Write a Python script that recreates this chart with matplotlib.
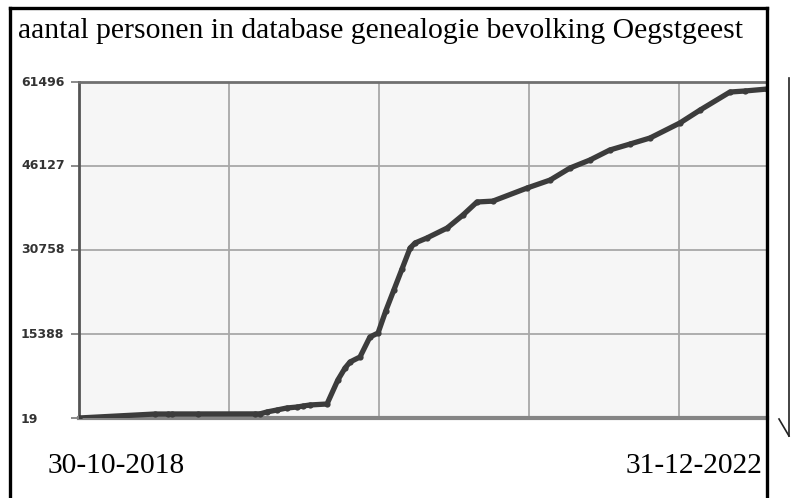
import matplotlib
matplotlib.use("Agg")
import matplotlib.pyplot as plt
from matplotlib.lines import Line2D
import matplotlib.transforms as mtransforms

# ---- data ----
title = "aantal personen in database genealogie bevolking Oegstgeest"
start_label = "30-10-2018"
end_label = "31-12-2022"
# days since 30-10-2018
days = [0, 168, 197, 206, 263, 390, 401, 416, 438, 460, 483, 496, 511, 549,
        573, 589, 600, 622, 644, 662, 679, 697, 715, 733, 744, 770, 815, 850, 881,
        916, 992, 1043, 1087, 1131, 1175, 1220, 1264, 1330, 1375, 1441, 1474, 1523]
persons = [19, 750, 750, 760, 760, 770, 780, 1120, 1480, 1850, 2030, 2210, 2400, 2580,
           6970, 9170, 10270, 11180, 14840, 15570, 19600, 23440, 27280, 31120, 32040,
           32950, 34780, 37160, 39540, 39700, 42100, 43560, 45760, 47220, 49050, 50150,
           51250, 53990, 56370, 59660, 59850, 60210]
y_ticks = [19, 15388, 30758, 46127, 61496]
y_tick_labels = ["19", "15388", "30758", "46127", "61496"]
x_grid = [332, 664, 996, 1328]
x_max = 1523

W, H = 791, 498
fig = plt.figure(figsize=(W / 100, H / 100), dpi=100)
fig.patch.set_facecolor("white")

def fx(x):
    return x / W

def fy(y):
    return 1 - y / H

ax = fig.add_axes([fx(79), fy(418), (767 - 79) / W, (418 - 82) / H])
ax.set_facecolor("#f6f6f6")
ax.set_xlim(0, x_max)
ax.set_ylim(y_ticks[0], y_ticks[-1])

ax.set_yticks(y_ticks)
ax.set_yticklabels([""] * len(y_ticks))
ax.set_xticks(x_grid)
ax.set_xticklabels([""] * len(x_grid))
ax.tick_params(axis="y", length=6, width=1.2, color="#777777", pad=2)
ax.tick_params(axis="x", length=0)
ax.grid(True, color="#a8a8a8", linewidth=1.3)
ax.set_axisbelow(True)

ax.spines["right"].set_visible(False)
ax.spines["left"].set_color("#555555")
ax.spines["left"].set_linewidth(2)
ax.spines["top"].set_color("#707070")
ax.spines["top"].set_linewidth(2)
ax.spines["bottom"].set_color("#858585")
ax.spines["bottom"].set_linewidth(3)

ax.plot(days, persons, color="#3c3c3c", linewidth=3.8, marker="o",
        markersize=4.5, markeredgewidth=0, solid_capstyle="round",
        solid_joinstyle="round", zorder=3)

# y tick labels placed at left
trans = mtransforms.blended_transform_factory(fig.transFigure, ax.transData)
for v, lab in zip(y_ticks, y_tick_labels):
    dy = -300 if v == y_ticks[0] else 0
    ax.text(fx(21), v + dy, lab, transform=trans, ha="left", va="center",
            fontsize=9, fontweight="bold", color="#333333",
            family="DejaVu Sans", clip_on=False)

# title and date labels
fig.text(fx(18), fy(31), title, ha="left", va="center",
         fontsize=21.3, family="Liberation Serif", color="black")
fig.text(fx(48), fy(466), start_label, ha="left", va="center",
         fontsize=21.2, family="Liberation Serif", color="black")
fig.text(fx(762), fy(466), end_label, ha="right", va="center",
         fontsize=21.2, family="Liberation Serif", color="black")

# frame borders
lw = 2.4
fig.add_artist(Line2D([fx(10), fx(767)], [fy(8), fy(8)], color="black", linewidth=lw))
fig.add_artist(Line2D([fx(10), fx(10)], [fy(8), fy(498)], color="black", linewidth=lw))
fig.add_artist(Line2D([fx(767), fx(767)], [fy(8), fy(498)], color="black", linewidth=lw))

# arrow at right
fig.add_artist(Line2D([fx(789), fx(789)], [fy(78), fy(436)], color="#222222", linewidth=1.2))
fig.add_artist(Line2D([fx(779), fx(789)], [fy(419), fy(436)], color="#222222", linewidth=1.2))

fig.savefig("out.png", dpi=100)
